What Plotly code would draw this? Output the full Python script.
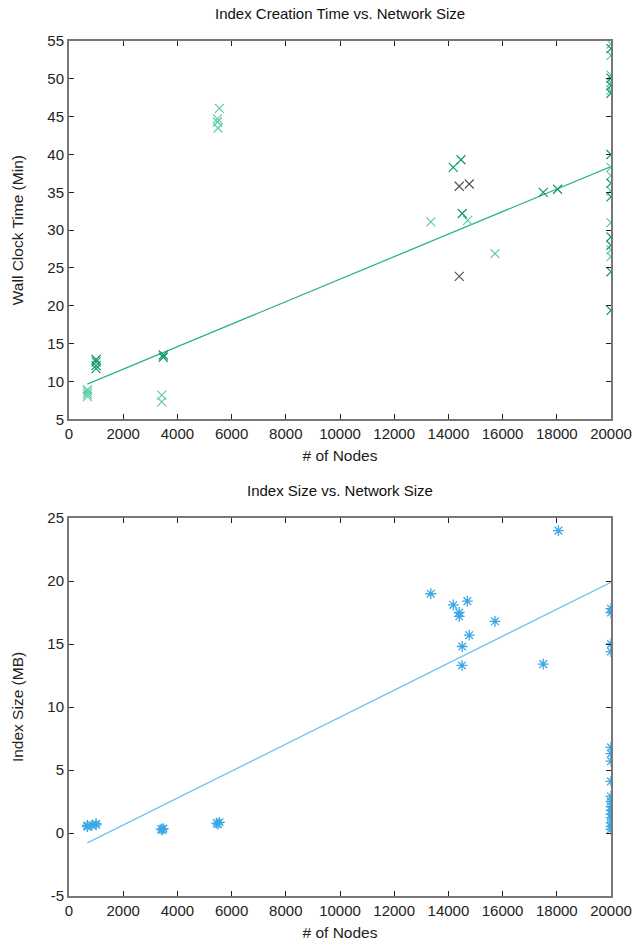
import plotly.graph_objects as go
from plotly.subplots import make_subplots

# ---- Top chart: Index creation time (min) ----
nodes_dark = [1000, 1000, 1000, 1000, 3480, 3480, 14180, 14465, 14510, 17500, 18030,
              20000, 20000, 20000, 20000, 20000, 20000, 20000, 20000, 20000, 20000, 20000]
time_dark = [12.9, 12.6, 12.1, 11.7, 13.5, 13.2, 38.3, 39.3, 32.2, 35.0, 35.4,
             54.0, 50.1, 49.1, 48.1, 40.0, 36.2, 34.4, 29.1, 28.0, 24.5, 19.4]

nodes_light = [680, 680, 680, 680, 3420, 3420, 5550, 5480, 5480, 5500, 13350, 14710, 15720,
               20000, 20000, 20000, 20000, 20000, 20000, 20000, 20000, 20000, 20000, 20000]
time_light = [8.9, 8.6, 8.3, 8.0, 8.2, 7.3, 46.1, 44.7, 44.3, 43.5, 31.1, 31.3, 26.9,
              54.6, 53.1, 50.5, 49.5, 48.5, 38.3, 37.2, 35.2, 31.0, 27.4, 26.5]

nodes_gray = [14400, 14770, 14400]
time_gray = [35.8, 36.1, 23.9]

time_trend_x = [675, 20000]
time_trend_y = [9.65, 38.4]

# ---- Bottom chart: Index size (MB) ----
size_nodes = [680, 680, 680, 850, 1000, 1000, 3400, 3440, 3480, 5450, 5500, 5550,
              13350, 14180, 14700, 14400, 14400, 15720, 14770, 14510, 14500, 17500, 18060,
              20000, 20000, 20000, 20000, 20000, 20000, 20000, 20000, 20000, 20000, 20000,
              20000, 20000, 20000, 20000, 20000, 20000]
size_mb = [0.55, 0.6, 0.5, 0.6, 0.74, 0.65, 0.3, 0.25, 0.35, 0.79, 0.7, 0.85,
           18.99, 18.1, 18.4, 17.5, 17.2, 16.8, 15.7, 14.8, 13.3, 13.4, 24.0,
           17.8, 17.5, 15.0, 14.4, 6.8, 6.3, 5.7, 4.1, 2.9, 2.5, 2.1, 1.8, 1.5, 1.2, 0.8, 0.5, 0.3]

size_trend_x = [675, 20000]
size_trend_y = [-0.79, 19.9]

x_ticks = [0, 2000, 4000, 6000, 8000, 10000, 12000, 14000, 16000, 18000, 20000]
x_tick_text = ["0", "2000", "4000", "6000", "8000", "10000", "12000", "14000", "16000", "18000", "20000"]
time_ticks = [5, 10, 15, 20, 25, 30, 35, 40, 45, 50, 55]
time_tick_text = ["5", "10", "15", "20", "25", "30", "35", "40", "45", "50", "55"]
size_ticks = [-5, 0, 5, 10, 15, 20, 25]
size_tick_text = ["-5", "0", "5", "10", "15", "20", "25"]

W, H = 633, 942
ML, MR, MT, MB = 69, 22, 41, 46
plot_h = H - MT - MB
FONT = "Liberation Sans, Arial, sans-serif"

fig = make_subplots(rows=2, cols=1, vertical_spacing=0.0)

fig.add_trace(go.Scatter(x=time_trend_x, y=time_trend_y, mode="lines",
                         line=dict(color="#2fb489", width=1.3), showlegend=False), row=1, col=1)
fig.add_trace(go.Scatter(x=nodes_light, y=time_light, mode="markers",
                         marker=dict(symbol="x-thin-open", size=9, color="#5ccca2",
                                     line=dict(color="#5ccca2", width=1.2)),
                         showlegend=False), row=1, col=1)
fig.add_trace(go.Scatter(x=nodes_dark, y=time_dark, mode="markers",
                         marker=dict(symbol="x-thin-open", size=9, color="#0f9868",
                                     line=dict(color="#0f9868", width=1.2)),
                         showlegend=False), row=1, col=1)
fig.add_trace(go.Scatter(x=nodes_gray, y=time_gray, mode="markers",
                         marker=dict(symbol="x-thin-open", size=9, color="#4a5a52",
                                     line=dict(color="#4a5a52", width=1.2)),
                         showlegend=False), row=1, col=1)

fig.add_trace(go.Scatter(x=size_trend_x, y=size_trend_y, mode="lines",
                         line=dict(color="#6ec4ee", width=1.3), showlegend=False), row=2, col=1)
fig.add_trace(go.Scatter(x=size_nodes, y=size_mb, mode="markers",
                         marker=dict(symbol="asterisk-open", size=9, color="#3aa8e6",
                                     line=dict(color="#3aa8e6", width=1.3)),
                         showlegend=False), row=2, col=1)

top_dom = [(H - MB - 419.3) / plot_h, 1.0]
bot_dom = [0.0, (H - MB - 518) / plot_h]

axis_common = dict(showline=True, linecolor="#777777", linewidth=2, mirror="ticks",
                   ticks="inside", ticklen=5, tickwidth=1.3, tickcolor="#222222",
                   showgrid=False, zeroline=False, automargin=False,
                   tickfont=dict(family=FONT, size=15, color="#222222"))
title_font = dict(family=FONT, size=15.5, color="#222222")

fig.update_xaxes(range=[0, 20000], tickvals=x_ticks, ticktext=x_tick_text, **axis_common)
fig.update_xaxes(title=dict(text="# of Nodes", standoff=9, font=title_font), row=1, col=1)
fig.update_xaxes(title=dict(text="# of Nodes", standoff=9, font=title_font), row=2, col=1)
fig.update_yaxes(range=[5, 55], tickvals=time_ticks, ticktext=time_tick_text, domain=top_dom,
                 title=dict(text="Wall Clock Time (Min)", standoff=20, font=title_font),
                 **axis_common, row=1, col=1)
fig.update_yaxes(range=[-5, 25], tickvals=size_ticks, ticktext=size_tick_text, domain=bot_dom,
                 title=dict(text="Index Size (MB)", standoff=20, font=title_font),
                 **axis_common, row=2, col=1)

def ypaper(py):
    return (H - MB - py) / plot_h

fig.add_annotation(text="Index Creation Time vs. Network Size", xref="paper", yref="paper",
                   x=0.5, y=ypaper(14), xanchor="center", yanchor="middle", showarrow=False,
                   font=dict(family=FONT, size=15, color="#111111"))
fig.add_annotation(text="Index Size vs. Network Size", xref="paper", yref="paper",
                   x=0.5, y=ypaper(490), xanchor="center", yanchor="middle", showarrow=False,
                   font=dict(family=FONT, size=15, color="#111111"))

fig.update_layout(width=W, height=H, margin=dict(l=ML, r=MR, t=MT, b=MB),
                  plot_bgcolor="white", paper_bgcolor="white")

fig.write_html("out.html", config={"displayModeBar": False},
               post_script="document.body.style.margin='0';document.body.style.overflow='hidden';")
